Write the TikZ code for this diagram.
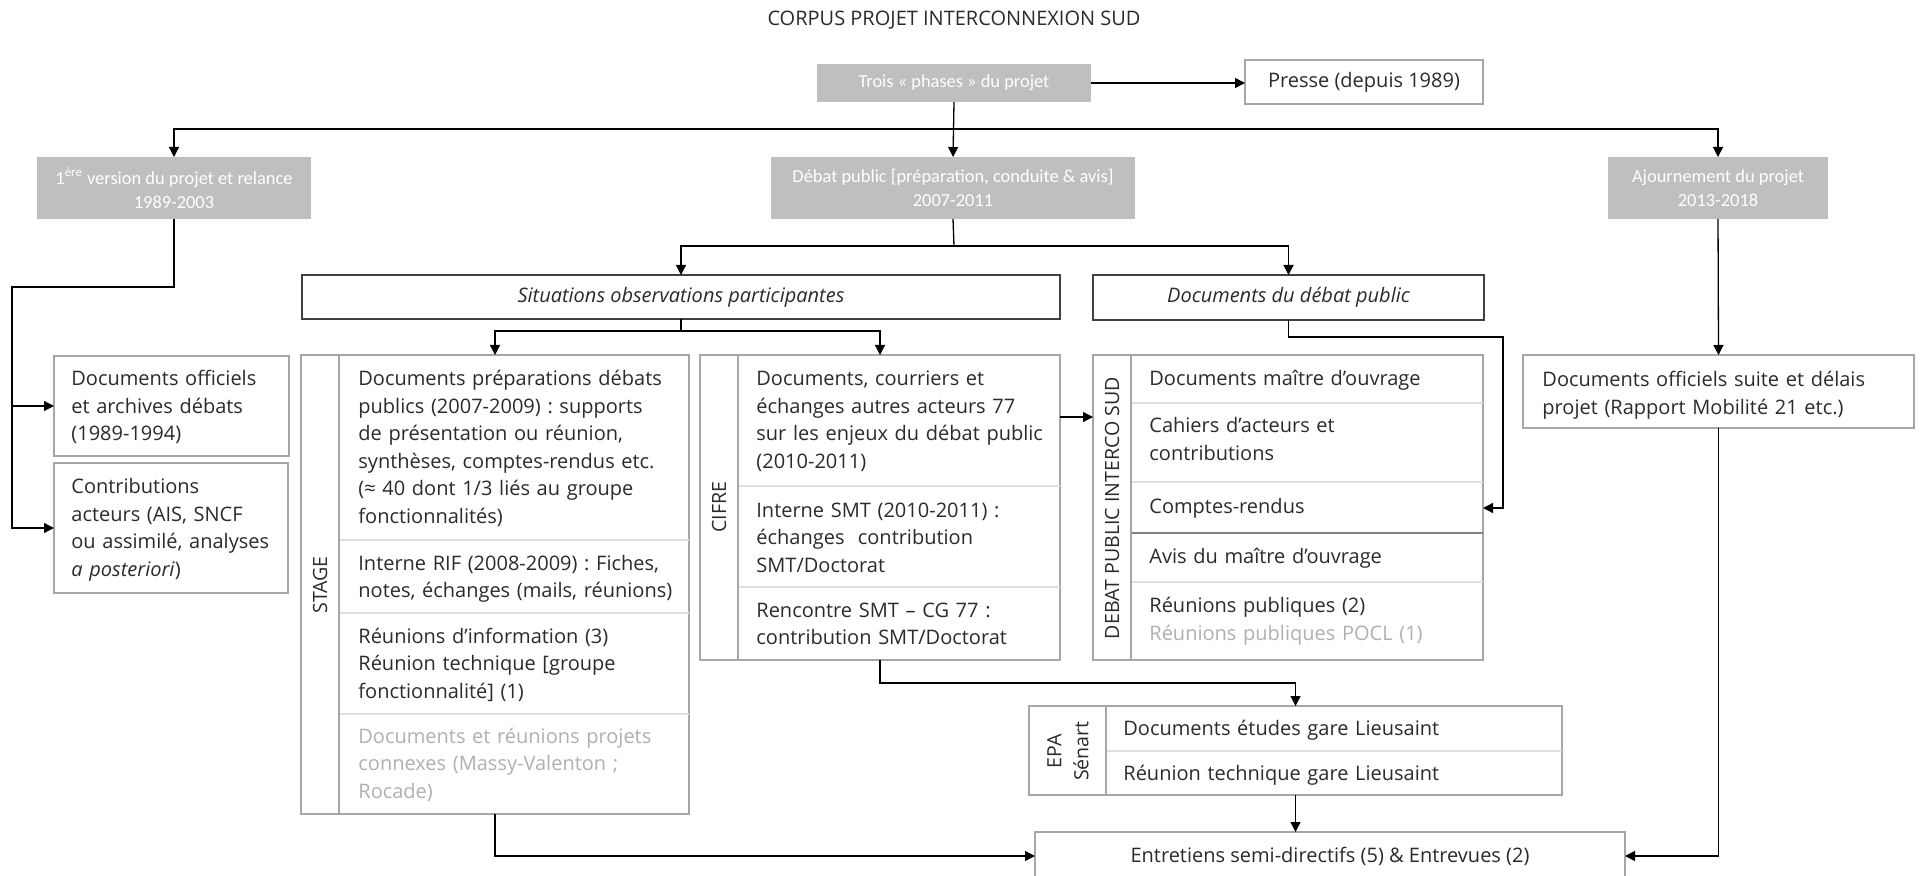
\documentclass[tikz,border=0pt]{standalone}
\usepackage{fontspec}
\setmainfont{Open Sans}
\newfontfamily\hdrfont{Carlito}
\usetikzlibrary{arrows.meta}
\frenchspacing
\definecolor{hdrgray}{HTML}{BFBFBF}
\definecolor{bord}{HTML}{A6A6A6}
\definecolor{sepl}{HTML}{DEDEDE}
\definecolor{sepd}{HTML}{808080}
\definecolor{txt}{HTML}{2B2B2B}
\definecolor{faint}{HTML}{B0B0B0}
\definecolor{dark}{HTML}{404040}
\tikzset{
 box/.style args={#1/#2/#3/#4}{at={(#1,#2)}, anchor=north west, rectangle,
   minimum width={(#3-#1)*0.5pt}, minimum height={(#4-#2)*0.5pt}, inner sep=0pt, outer sep=0pt},
 hdr/.style={fill=hdrgray, text=white, font=\hdrfont\fontsize{9.2}{12}\selectfont, align=center},
 frame/.style={draw=bord, line width=0.7pt},
 darkframe/.style={draw=dark, line width=0.9pt},
 boxtext/.style={text=txt, font=\fontsize{10}{13.75}\selectfont},
 ital/.style={text=txt, font=\itshape\fontsize{10}{13.75}\selectfont},
 arr/.style={-{Triangle[length=5pt,width=5pt]}, line width=0.65pt, black},
 ln/.style={line width=0.65pt, black},
 body/.style={anchor=base west, inner sep=0pt, text width=220pt, align=left, text=txt,
   font=\fontsize{10}{13.75}\selectfont},
 vlab/.style={rotate=90, inner sep=0pt, text=txt, font=\fontsize{9.8}{13.5}\selectfont, align=center},
 colline/.style={draw=bord, line width=0.6pt},
 seplight/.style={draw=sepl, line width=1pt},
 sepdark/.style={draw=sepd, line width=0.6pt},
}
\begin{document}
\begin{tikzpicture}[x=0.5pt,y=-0.5pt]
\useasboundingbox (0,0) rectangle (1920,876);
\fill[white] (0,0) rectangle (1920,876);
\clip (0,0) rectangle (1920,876);

% title
\node[boxtext, font=\fontsize{10}{12}\selectfont] (title) at (954,20) {CORPUS PROJET INTERCONNEXION SUD};

% header boxes
\node[box=817/64/1091/102, hdr] (trois) {Trois «~phases~» du projet};
\node[box=1245/60/1483/104, frame, boxtext] (presse) {Presse (depuis 1989)};
\node[box=37/157/311/219, hdr] (prem) {1\textsuperscript{ère} version du projet et relance\\1989-2003};
\node[box=771/157/1135/219, hdr] (debat) {Débat public [préparation, conduite \& avis]\\2007-2011};
\node[box=1608/157/1828/219, hdr] (ajourn) {Ajournement du projet\\2013-2018};

\node[box=302/275/1060/319, darkframe, ital] (sit) {Situations observations participantes};
\node[box=1093/275/1484/320, darkframe, ital] (dpub) {Documents du débat public};

% content boxes
\node[box=54/356/289/456, frame] (docoff) {};
\node[box=54/463/288/593, frame] (contrib) {};
\node[box=301/355/689/814, frame] (stage) {};
\node[box=700/355/1060/660, frame] (cifre) {};
\node[box=1093/355/1483/660, frame] (dps) {};
\node[box=1523/355/1914/428, frame] (docsuite) {};
\node[box=1029/706/1562/795, frame] (epa) {};
\node[box=1035/832/1625/880, frame, boxtext] (entr) {Entretiens semi-directifs (5) \& Entrevues (2)};

% inner lines
\draw[seplight] (339,540) -- (689,540);
\draw[seplight] (339,613) -- (689,613);
\draw[seplight] (339,714) -- (689,714);
\draw[colline] (339,355) -- (339,814);
\draw[seplight] (738,486) -- (1060,486);
\draw[seplight] (738,587) -- (1060,587);
\draw[colline] (738,355) -- (738,660);
\draw[seplight] (1131,403) -- (1483,403);
\draw[seplight] (1131,482) -- (1483,482);
\draw[seplight] (1131,582) -- (1483,582);
\draw[sepdark] (1131,533) -- (1483,533);
\draw[colline] (1131,355) -- (1131,660);
\draw[seplight] (1106,751) -- (1562,751);
\draw[colline] (1106,706) -- (1106,795);

% vertical labels
\node[vlab] (lstage) at (320,585) {STAGE};
\node[vlab] (lcifre) at (719,507) {CIFRE};
\node[vlab] (ldps) at (1112,508) {DEBAT PUBLIC INTERCO SUD};
\node[vlab] (lepa) at (1068,751) {EPA\\Sénart};

% texts
\node[body] (t1) at (71,386) {Documents officiels\\et archives débats\\(1989-1994)};
\node[body] (t2) at (71,494) {Contributions\\acteurs (AIS, SNCF\\ou assimilé, analyses\\\textit{a posteriori})};
\node[body] (s1) at (358,386) {Documents préparations débats\\publics (2007-2009) : supports\\de présentation ou réunion,\\synthèses, comptes-rendus etc.\\(≈ 40 dont 1/3 liés au groupe\\fonctionnalités)};
\node[body] (s2) at (358,570) {Interne RIF (2008-2009) : Fiches,\\notes, échanges (mails, réunions)};
\node[body] (s3) at (358,643) {Réunions d’information (3)\\Réunion technique [groupe\\fonctionnalité] (1)};
\node[body, text=faint] (s4) at (358,743) {Documents et réunions projets\\connexes (Massy-Valenton ;\\Rocade)};
\node[body] (c1) at (756,386) {Documents, courriers et\\échanges autres acteurs 77\\sur les enjeux du débat public\\(2010-2011)};
\node[body] (c2) at (756,517) {Interne SMT (2010-2011) :\\échanges\ \ contribution\\SMT/Doctorat};
\node[body] (c3) at (756,617) {Rencontre SMT – CG 77 :\\contribution SMT/Doctorat};
\node[body] (d1) at (1149,386) {Documents maître d’ouvrage};
\node[body] (d2) at (1149,433) {Cahiers d’acteurs et\\contributions};
\node[body] (d3) at (1149,513) {Comptes-rendus};
\node[body] (d4) at (1149,563) {Avis du maître d’ouvrage};
\node[body] (d5) at (1149,612) {Réunions publiques (2)};
\node[body, text=faint] (d6) at (1149,640) {Réunions publiques POCL (1)};
\node[body] (e1) at (1123,735) {Documents études gare Lieusaint};
\node[body] (e2) at (1123,780) {Réunion technique gare Lieusaint};
\node[body] (r1) at (1542,387) {Documents officiels suite et délais\\projet (Rapport Mobilité 21 etc.)};

% junction coordinates
\coordinate (j1) at (954,129);
\coordinate (j2) at (954,246);
\coordinate (j3) at (681,331);
\coordinate (L1) at (12,287);
\coordinate (a1) at (1060,417);
\coordinate (R1) at (1503,337);
\coordinate (cr) at (1483,508);
\coordinate (j4) at (880,683);

% connectors
\draw[arr] (trois.east) -- (trois.east -| presse.west);
\draw[arr] (trois.south) -- (debat.north);
\draw[arr] (j1) -| (prem.north);
\draw[arr] (j1) -| (ajourn.north);
\draw[ln] (debat.south) -- (j2);
\draw[arr] (j2) -| (sit.north);
\draw[arr] (j2) -| (dpub.north);
\draw[ln] (sit.south) -- (j3);
\draw[arr] (j3) -| (stage.north);
\draw[arr] (j3) -| (cifre.north);
\draw[arr] (prem.south) |- (L1) |- (contrib.west);
\draw[arr] (L1 |- docoff.west) -- (docoff.west);
\draw[arr] (a1) -- (a1 -| dps.west);
\draw[arr] (dpub.south) |- (R1) |- (cr);
\draw[arr] (ajourn.south) -- (docsuite.north);
\draw[arr] (docsuite.south) |- (entr.east);
\draw[arr] (stage.south) |- (entr.west);
\draw[arr] (cifre.south) -- (j4) -| (epa.north);
\draw[arr] (epa.south) -- (epa.south |- entr.north);
\end{tikzpicture}
\end{document}
